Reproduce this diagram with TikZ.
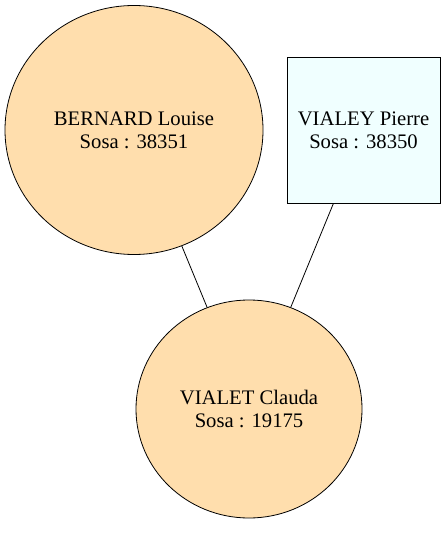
\documentclass[tikz,border=0pt]{standalone}
\usepackage{fontspec}
\setmainfont{Liberation Serif}
\usetikzlibrary{shapes.geometric}
\definecolor{navajo}{RGB}{255,222,173}
\definecolor{azure}{RGB}{240,255,255}
\begin{document}
\begin{tikzpicture}
        [x=0.75pt, y=-0.75pt,
        person/.style={draw, line width=0.6pt, align=center, inner sep=0pt, font=\fontsize{15.5}{17.5}\selectfont},
        woman/.style={person, ellipse, fill=navajo},
        man/.style={person, rectangle, fill=azure},
        edge/.style={line width=0.6pt, black}]

        \useasboundingbox (0, 0) rectangle (445, 541);

        \node[woman, minimum width=193.5pt, minimum height=186.75pt] (bernard) at (134, 130) {BERNARD Louise\\Sosa : 38351};
        \node[man, minimum width=114.75pt, minimum height=109.5pt] (vialey) at (363.5, 130) {VIALEY Pierre\\Sosa : 38350};
        \node[woman, minimum width=169.5pt, minimum height=163.5pt] (vialet) at (249, 409) {VIALET Clauda\\Sosa : 19175};

        % parents to child
        \draw[edge] (bernard) -- (vialet);
        \draw[edge] (vialey) -- (vialet);

    \end{tikzpicture}
\end{document}
